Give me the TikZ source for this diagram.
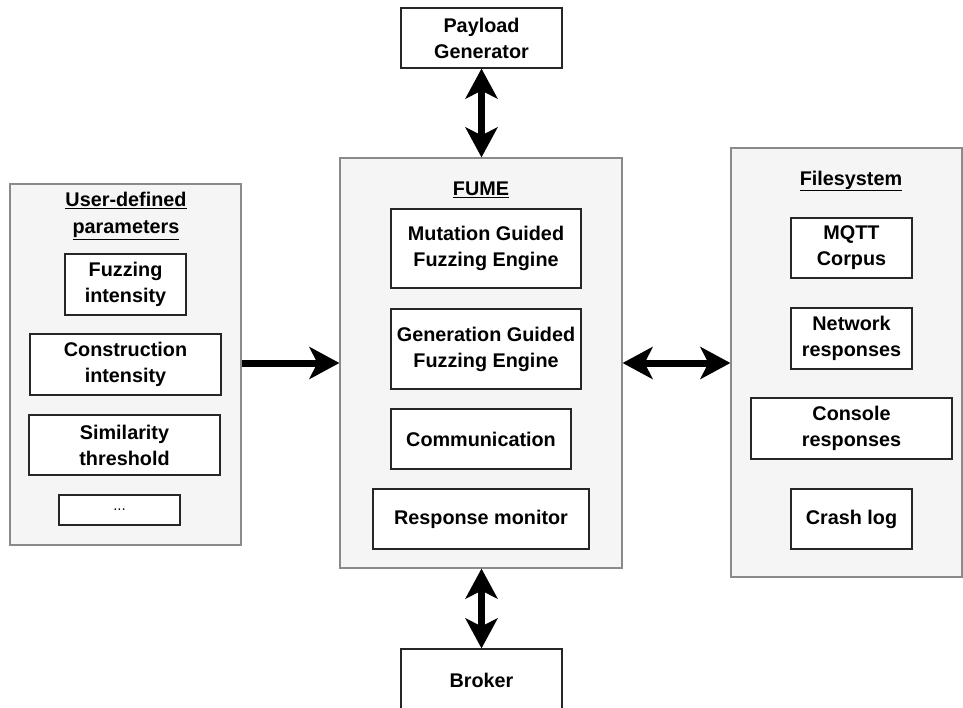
\documentclass[tikz,border=0pt]{standalone}
\usepackage{fontspec}
\setmainfont{Liberation Sans}
\usetikzlibrary{arrows.meta}
\definecolor{panelfill}{HTML}{F5F5F5}
\definecolor{panelline}{HTML}{8A8A8A}
\tikzset{
  panel/.style={draw=panelline, line width=1.2pt, fill=panelfill, inner sep=0pt},
  item/.style={draw=black!85, line width=1.2pt, fill=white, align=center,
    inner sep=0pt, font=\fontsize{19.8}{26}\selectfont\bfseries},
  title/.style={align=center, inner sep=0pt, font=\fontsize{19.8}{27}\selectfont\bfseries},
  bigarrow/.style={line width=7pt, draw=black,
    -{Stealth[length=30pt,width=32pt,inset=8pt]}},
  bigdouble/.style={line width=7pt, draw=black,
    {Stealth[length=30pt,width=32pt,inset=8pt]}-{Stealth[length=30pt,width=32pt,inset=8pt]}}
}
\begin{document}
\begin{tikzpicture}[x=1pt, y=-1pt]
\clip (0,0) rectangle (963,708);
\fill[white] (0,0) rectangle (963,708);

% outer containers
\node[panel, minimum width=231pt, minimum height=361pt] (params) at (125.5,364.5) {};
\node[panel, minimum width=282pt, minimum height=410pt] (fume) at (481,363) {};
\node[panel, minimum width=231pt, minimum height=429pt] (fs) at (846.5,362.5) {};

% container titles
\node[title] (paramstitle) at (126,216) {\underline{User-defined}\\\underline{parameters}};
\node[title] (fumetitle) at (481,190) {\underline{FUME}};
\node[title] (fstitle) at (851,181) {\underline{Filesystem}};

% user-defined parameters
\node[item, minimum width=121pt, minimum height=61pt] (fuzz) at (125.5,284.5) {Fuzzing\\intensity};
\node[item, minimum width=191pt, minimum height=61pt] (constr) at (125.5,364.5) {Construction\\intensity};
\node[item, minimum width=191pt, minimum height=60pt] (simil) at (124.5,445) {Similarity\\threshold};
\node[item, minimum width=121pt, minimum height=30pt, font=\fontsize{15}{18}\selectfont] (more) at (119.5,510) {...};

% FUME components
\node[item, minimum width=190pt, minimum height=79pt] (mut) at (486,248.5) {Mutation Guided\\Fuzzing Engine};
\node[item, minimum width=190pt, minimum height=80pt] (gen) at (486,349) {Generation Guided\\Fuzzing Engine};
\node[item, minimum width=180pt, minimum height=60pt] (comm) at (481,439) {Communication};
\node[item, minimum width=216pt, minimum height=60pt] (resp) at (481,519) {Response monitor};

% filesystem contents
\node[item, minimum width=121pt, minimum height=60pt] (corpus) at (851.5,248) {MQTT\\Corpus};
\node[item, minimum width=121pt, minimum height=61pt] (netresp) at (851.5,338.5) {Network\\responses};
\node[item, minimum width=201pt, minimum height=61pt] (conresp) at (851.5,428.5) {Console\\responses};
\node[item, minimum width=121pt, minimum height=60pt] (crash) at (851.5,519) {Crash log};

% external components
\node[item, minimum width=161pt, minimum height=60pt] (payload) at (481.5,38) {Payload\\Generator};
\node[item, minimum width=161pt, minimum height=62pt] (broker) at (481.5,680) {Broker};

% connections
\draw[bigarrow] (params.east |- fume.west) -- (fume.west);
\draw[bigdouble] (fume.east) -- (fume.east -| fs.west);
\draw[bigdouble] (payload.south) -- (payload.south |- fume.north);
\draw[bigdouble] (broker.north) -- (broker.north |- fume.south);
\end{tikzpicture}
\end{document}
